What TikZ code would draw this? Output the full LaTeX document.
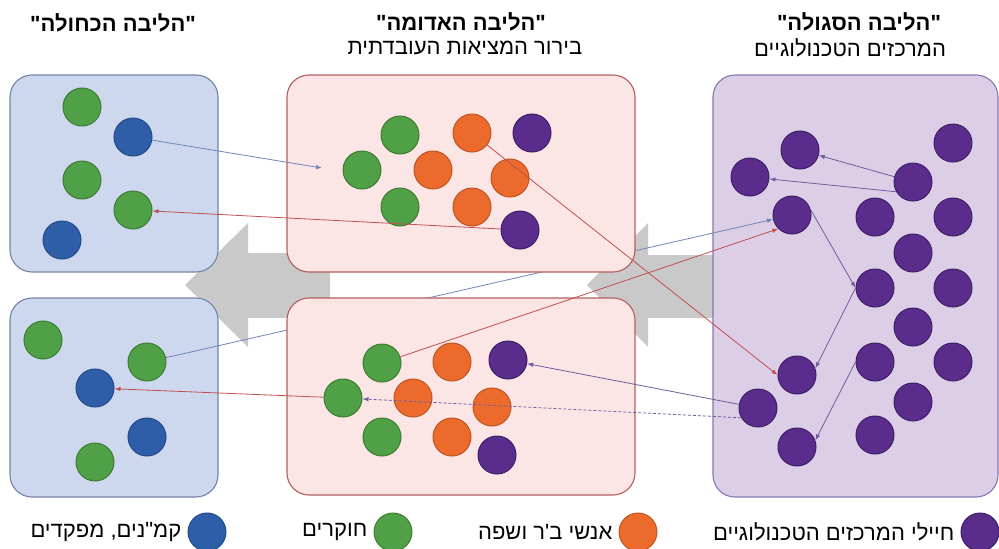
\documentclass[tikz,border=0pt]{standalone}
\usepackage{fontspec}
\setmainfont{Liberation Sans}
\newfontfamily\hebfont[Script=Hebrew]{Liberation Sans}
\usepackage{tikz}
\usetikzlibrary{positioning, arrows.meta}
\TeXXeTstate=1

\definecolor{blueBg}{HTML}{CDD8EE}
\definecolor{blueEdge}{HTML}{7483A8}
\definecolor{redBg}{HTML}{FCE5E5}
\definecolor{redEdge}{HTML}{B35E5E}
\definecolor{purpleBg}{HTML}{DCCEE6}
\definecolor{purpleEdge}{HTML}{8576B2}
\definecolor{grnFill}{HTML}{4FA046}
\definecolor{grnEdge}{HTML}{3C7D33}
\definecolor{bluFill}{HTML}{2F5EA8}
\definecolor{bluEdge}{HTML}{24498A}
\definecolor{orgFill}{HTML}{EC6A2C}
\definecolor{orgEdge}{HTML}{BF5425}
\definecolor{purFill}{HTML}{5A2D8C}
\definecolor{purEdge}{HTML}{3E1F66}
\definecolor{arrowGray}{HTML}{C9C9C9}
\definecolor{blueLink}{HTML}{6F86B8}
\definecolor{redLink}{HTML}{C0504D}
\definecolor{purpleLink}{HTML}{6E5E9E}

\pgfdeclarelayer{base}
\pgfdeclarelayer{under}
\pgfsetlayers{base,under,main}

\begin{document}
\begin{tikzpicture}[x=1pt, y=-1pt,
        font=\hebfont\fontsize{22}{27}\selectfont,
        core/.style={rounded corners=22pt, line width=1.1pt},
        bluecore/.style={core, draw=blueEdge, fill=blueBg, minimum width=208pt},
        redcore/.style={core, draw=redEdge, fill=redBg, minimum width=348pt},
        purplecore/.style={core, draw=purpleEdge, fill=purpleBg},
        dot/.style={circle, line width=1pt, minimum size=38pt, inner sep=0pt},
        gdot/.style={dot, draw=grnEdge, fill=grnFill},
        bdot/.style={dot, draw=bluEdge, fill=bluFill},
        odot/.style={dot, draw=orgEdge, fill=orgFill},
        pdot/.style={dot, draw=purEdge, fill=purFill},
        flow/.style={-{Latex[length=6pt,width=4.5pt]}, line width=0.8pt},
        bflow/.style={flow, draw=blueLink},
        rflow/.style={flow, draw=redLink},
        pflow/.style={flow, draw=purpleLink},
        head/.style={align=center, inner sep=0pt},
        leg/.style={inner sep=0pt}
    ]
        \useasboundingbox (0,0) rectangle (999,549);

        % gray arrows and the cores behind everything
        \begin{pgfonlayer}{base}
            \fill[arrowGray] (185,285) -- (248,223) -- (248,253) -- (330,253) -- (330,318)
                -- (248,318) -- (248,347) -- cycle;
            \fill[arrowGray] (587,285) -- (648,223) -- (648,255) -- (715,255) -- (715,318)
                -- (648,318) -- (648,347) -- cycle;
            \node[bluecore, minimum height=197pt] (blueA) at (114,173.5) {};
            \node[bluecore, minimum height=199pt] (blueB) at (114,397.5) {};
            \node[purplecore, minimum width=285pt, minimum height=422pt] (purple) at (855.5,286) {};
        \end{pgfonlayer}
        \node[redcore, minimum height=197pt] (redA) at (461,173.5) {};
        \node[redcore, minimum height=197pt] (redB) at (461,396.5) {};

        % headings
        \node[head] (blueT) at (113,23) {\bfseries\beginR"הליבה הכחולה"\endR};
        \node[head] (redT) at (461,22) {\bfseries\beginR"הליבה האדומה"\endR};
        \node[head] (redS) at (465,48) {\beginR בירור המציאות העובדתית\endR};
        \node[head] (purpleT) at (859,22) {\bfseries\beginR"הליבה הסגולה"\endR};
        \node[head] (purpleS) at (850,48) {\beginR המרכזים הטכנולוגיים\endR};

        % blue core, top
        \node[gdot] (bA1) at (82,107) {};
        \node[bdot] (bA2) at (133,137) {};
        \node[gdot] (bA3) at (82,180) {};
        \node[gdot] (bA4) at (133,210) {};
        \node[bdot] (bA5) at (62,240) {};

        % blue core, bottom
        \node[gdot] (bB1) at (43,340) {};
        \node[gdot] (bB2) at (147,362) {};
        \node[bdot] (bB3) at (95,388) {};
        \node[bdot] (bB4) at (147,437) {};
        \node[gdot] (bB5) at (95,462) {};

        % red core, top
        \node[gdot] (rA1) at (400,135) {};
        \node[odot] (rA2) at (472,133) {};
        \node[pdot] (rA3) at (532,133) {};
        \node[gdot] (rA4) at (362,170) {};
        \node[odot] (rA5) at (433,170) {};
        \node[odot] (rA6) at (510,178) {};
        \node[gdot] (rA7) at (400,207) {};
        \node[odot] (rA8) at (472,207) {};
        \node[pdot] (rA9) at (520,230) {};

        % red core, bottom
        \node[gdot] (rB1) at (382,363) {};
        \node[odot] (rB2) at (452,362) {};
        \node[pdot] (rB3) at (508,360) {};
        \node[gdot] (rB4) at (343,398) {};
        \node[odot] (rB5) at (413,398) {};
        \node[odot] (rB6) at (492,407) {};
        \node[gdot] (rB7) at (382,437) {};
        \node[odot] (rB8) at (452,437) {};
        \node[pdot] (rB9) at (497,455) {};

        % purple core
        \node[pdot] (p1) at (800,150) {};
        \node[pdot] (p2) at (953,143) {};
        \node[pdot] (p3) at (750,177) {};
        \node[pdot] (p4) at (913,182) {};
        \node[pdot] (p5) at (792,215) {};
        \node[pdot] (p6) at (875,217) {};
        \node[pdot] (p7) at (953,217) {};
        \node[pdot] (p8) at (913,253) {};
        \node[pdot] (p9) at (875,288) {};
        \node[pdot] (p10) at (953,288) {};
        \node[pdot] (p11) at (913,327) {};
        \node[pdot] (p12) at (875,362) {};
        \node[pdot] (p13) at (953,362) {};
        \node[pdot] (p14) at (797,375) {};
        \node[pdot] (p15) at (913,402) {};
        \node[pdot] (p16) at (758,408) {};
        \node[pdot] (p17) at (875,435) {};
        \node[pdot] (p18) at (797,447) {};

        % links
        \coordinate (redin) at (322,168);
        \begin{pgfonlayer}{under}
            \draw[bflow] (bB2) -- (p5);
        \end{pgfonlayer}
        \draw[bflow] (bA2) -- (redin);
        \draw[rflow] (rA9) -- (bA4);
        \draw[rflow] (rA2) -- (p14.west);
        \draw[rflow] (rB1) -- (p5.225);
        \draw[rflow] (rB4) -- (bB3);
        \draw[pflow] (p16) -- (rB3);
        \draw[pflow, densely dashed] (p16.210) -- (rB4);
        \draw[pflow] (p4) -- (p1);
        \draw[pflow] (p4.210) -- (p3);
        \draw[pflow] (p5.15) -- (p9.west);
        \draw[pflow] (p9.west) -- (p14.20);
        \draw[pflow] (p12.west) -- (p18.20);

        % legend
        \node[bdot] (lgB) at (207,532) {};
        \node[leg, left=6pt of lgB] {\beginR קמ"נים, מפקדים\endR};
        \node[gdot] (lgG) at (393,532) {};
        \node[leg, left=6pt of lgG] {\beginR חוקרים\endR};
        \node[odot] (lgO) at (638,532) {};
        \node[leg, left=6pt of lgO] {\beginR אנשי ב'ר ושפה\endR};
        \node[pdot] (lgP) at (980,532) {};
        \node[leg, left=6pt of lgP] {\beginR חיילי המרכזים הטכנולוגיים\endR};
    \end{tikzpicture}
\end{document}
